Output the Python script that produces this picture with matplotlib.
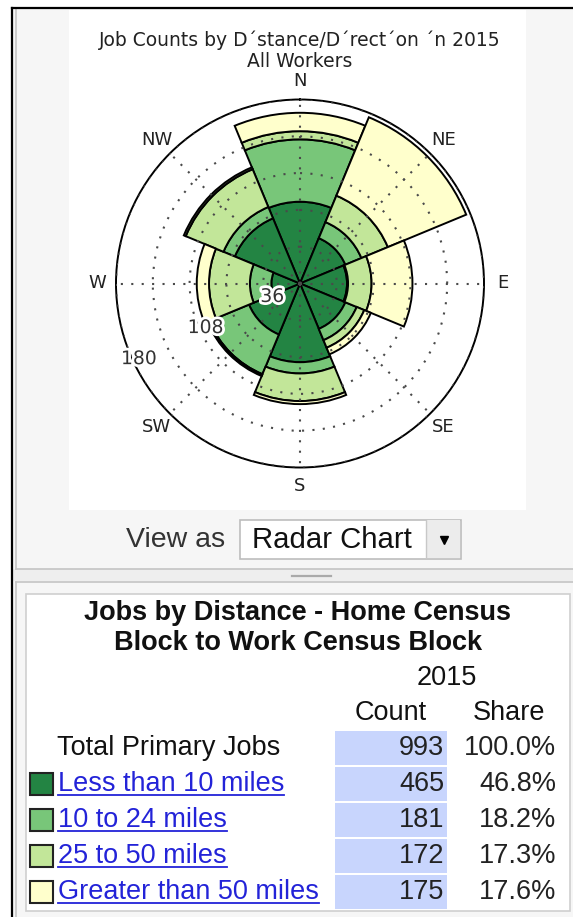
import numpy as np
import matplotlib
matplotlib.use("Agg")
import matplotlib.pyplot as plt
from matplotlib.patches import Rectangle
import matplotlib.patheffects as pe


# =========================================================
# Data
# =========================================================

directions = ["N", "NE", "E", "SE", "S", "SW", "W", "NW"]

# job counts per direction for each distance band (stacked outwards)
less_10 = [80, 48, 46, 48, 77, 54, 28, 69]
from_10_24 = [61, 17, 1, 12, 11, 42, 21, 12]
from_25_50 = [8, 28, 23, 8, 27, 1, 40, 40]
over_50 = [18, 83, 40, 7, 3, 1, 12, 2]

band_colors = ["#238443", "#78c679", "#c2e699", "#ffffcc"]

r_ticks = [36, 72, 108, 144, 180]
r_ticklabels = ["36", "", "108", "", "180"]

chart_title = "Job Counts by D\u00b4stance/D\u00b4rect\u00b4on \u00b4n 2015\nAll Workers"

table_title = "Jobs by Distance - Home Census\nBlock to Work Census Block"
table_year = "2015"
row_labels = ["Total Primary Jobs", "Less than 10 miles", "10 to 24 miles",
              "25 to 50 miles", "Greater than 50 miles"]
counts = [993, 465, 181, 172, 175]
shares = [100.0, 46.8, 18.2, 17.3, 17.6]


W, H = 573, 917
UI_FONT = "Liberation Sans"
CHART_FONT = "DejaVu Sans"

fig = plt.figure(figsize=(W / 100, H / 100), dpi=100)
fig.patch.set_facecolor("white")

# page background drawn in pixel coordinates
bg = fig.add_axes([0, 0, 1, 1])
bg.set_xlim(0, W)
bg.set_ylim(H, 0)
bg.axis("off")


def rect(x0, y0, x1, y1, **kw):
    bg.add_patch(Rectangle((x0, y0), x1 - x0, y1 - y0, **kw))


# panels
rect(13, 9, W, 569, facecolor="#f6f6f6", edgecolor="none")
rect(13, 569, W, 581, facecolor="#eeeeee", edgecolor="none")
rect(13, 581, W, H, facecolor="#f6f6f6", edgecolor="none")
bg.plot([15.5, 15.5], [9, 569], color="#c4c4c4", lw=1.2)
bg.plot([15.5, W], [569, 569], color="#c4c4c4", lw=1.2)
bg.plot([15.5, W], [581.5, 581.5], color="#c4c4c4", lw=1.2)
bg.plot([15.5, 15.5], [581.5, H], color="#c4c4c4", lw=1.2)
bg.plot([292, 331], [576, 576], color="#aaaaaa", lw=1.6)
bg.plot([12, 12], [8, H], color="black", lw=1.6)
bg.plot([12, W], [8, 8], color="black", lw=1.6)

# chart image area
rect(69, 10, 526, 510, facecolor="white", edgecolor="none")

# "View as" selector
bg.text(126, 540, "View as", fontsize=20.5, family=UI_FONT, color="#333333",
        ha="left", va="center")
rect(239.5, 519.5, 460.5, 558.5, facecolor="white", edgecolor="#bdbdbd", lw=1.2)
rect(426, 520, 460, 558, facecolor="#ececec", edgecolor="none")
bg.plot([426, 426], [520, 558], color="#c8c8c8", lw=1)
bg.plot([444], [540], marker="v", markersize=6, color="black")
bg.text(252, 540, "Radar Chart", fontsize=21.2, family=UI_FONT, color="#111111",
        ha="left", va="center")

# table box
rect(25.5, 593.5, 569.5, 910.5, facecolor="white", edgecolor="#cfcfcf", lw=1.2)
bg.text(298, 628, table_title, fontsize=19.5, family=UI_FONT, weight="bold",
        ha="center", va="center", linespacing=1.22, color="#111111")
bg.text(447, 678, table_year, fontsize=19.5, family=UI_FONT,
        ha="center", va="center", color="#111111")
bg.text(391, 713, "Count", fontsize=19.5, family=UI_FONT,
        ha="center", va="center", color="#111111")
bg.text(509, 713, "Share", fontsize=19.5, family=UI_FONT,
        ha="center", va="center", color="#111111")

row_y = [748, 784, 820, 856, 892]
fig.canvas.draw()
renderer = fig.canvas.get_renderer()
to_px = bg.transData.inverted()

for i, (label, n, share, y) in enumerate(zip(row_labels, counts, shares, row_y)):
    rect(335, y - 17, 447, y + 17, facecolor="#c8d5fd", edgecolor="none")
    bg.text(444, y, f"{n}", fontsize=19.5, family=UI_FONT, ha="right",
            va="center", color="#222222")
    bg.text(556, y, f"{share:.1f}%", fontsize=19.5, family=UI_FONT, ha="right",
            va="center", color="#222222")
    if i == 0:
        bg.text(57, y, label, fontsize=19.5, family=UI_FONT, ha="left",
                va="center", color="#111111")
        continue
    rect(29.5, y - 11, 52.5, y + 11, facecolor=band_colors[i - 1],
         edgecolor="#222222", lw=1.5)
    t = bg.text(58, y, label, fontsize=19.5, family=UI_FONT, ha="left",
                va="center", color="#2323d8")
    bb = t.get_window_extent(renderer)
    x_end = to_px.transform((bb.x1, bb.y0))[0]
    bg.plot([58, x_end], [y + 11, y + 11], color="#2323d8", lw=1.3)

# chart title
fig.text(300 / W, 1 - 51 / H, chart_title, fontsize=13.5, family=CHART_FONT,
         ha="center", va="center", color="#222222", linespacing=1.1)


# =========================================================
# Radar chart
# =========================================================

cx, cy, R = 300, 283.5, 184
ax = fig.add_axes([(cx - R) / W, (H - cy - R) / H, 2 * R / W, 2 * R / H],
                  projection="polar")
ax.set_theta_zero_location("N")
ax.set_theta_direction(-1)
ax.patch.set_facecolor("white")

theta = np.deg2rad(np.arange(len(directions)) * 45)
bottom = np.zeros(len(directions))

for values, color in zip([less_10, from_10_24, from_25_50, over_50], band_colors):
    ax.bar(theta, values, width=np.deg2rad(45), bottom=bottom, color=color,
           edgecolor="black", linewidth=1.4, align="center")
    bottom += np.array(values)

ax.set_ylim(0, 180)
ax.set_yticks(r_ticks)
ax.set_yticklabels([])
# radial labels sit slightly inside their ring, WSW of the centre
for r, txt in zip(r_ticks, r_ticklabels):
    if txt:
        ax.text(np.deg2rad(245), r - 6, txt, fontsize=13.5, family=CHART_FONT,
                color="#333333", ha="center", va="center", zorder=5,
                path_effects=[pe.withStroke(linewidth=4, foreground="white")])

ax.set_xticks(theta)
ax.set_xticklabels(directions, fontsize=13, family=CHART_FONT, color="#222222")
ax.tick_params(axis="x", pad=3)

ax.grid(True, color="#4a4a4a", linestyle=(0, (1, 4)), linewidth=1.5)
ax.set_axisbelow(False)
ax.spines["polar"].set_linewidth(1.4)

fig.savefig("out.png", dpi=100)
